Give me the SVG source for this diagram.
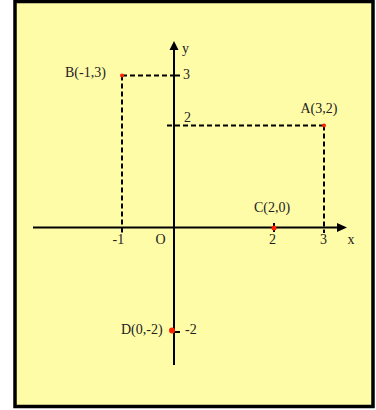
<svg xmlns="http://www.w3.org/2000/svg" width="376" height="410" viewBox="0 0 376 410">
<defs>
<style>
.ax{stroke:#000;stroke-width:2;fill:none}
.ds{stroke:#000;stroke-width:2;fill:none;stroke-dasharray:5 3}
.tk{stroke:#000;stroke-width:2}
.pt{fill:#FF2200}
text{font-family:"Liberation Serif","Times New Roman",serif;font-size:14px;fill:#222}
</style>
</defs>
<rect x="15" y="1.5" width="358" height="405" fill="#FFFCA8" stroke="#000" stroke-width="3.5"/>
<g id="connectors">
<line class="ax" x1="174" y1="365" x2="174" y2="49"/>
<polygon points="174,41 169.5,50 178.5,50" fill="#000"/>
<line class="ax" x1="33" y1="227.5" x2="338" y2="227.5"/>
<polygon points="347,227.5 337,223 337,232" fill="#000"/>
<line class="ds" x1="122" y1="75.5" x2="174" y2="75.5"/>
<line class="tk" x1="174" y1="75.5" x2="180" y2="75.5"/>
<line class="ds" x1="122" y1="75.5" x2="122" y2="233"/>
<line class="ds" x1="167" y1="125.5" x2="324" y2="125.5"/>
<line class="ds" x1="324" y1="125.5" x2="324" y2="233"/>
<line class="tk" x1="274" y1="223" x2="274" y2="232"/>
<line class="tk" x1="174" y1="332" x2="180" y2="332"/>
</g>
<g id="axis-labels">
<text x="182" y="53">y</text>
<text x="183" y="79">3</text>
<text x="184" y="122">2</text>
<text x="112.5" y="244">-1</text>
<text x="155.5" y="244">O</text>
<text x="269" y="244">2</text>
<text x="320" y="244">3</text>
<text x="347.5" y="243.5">x</text>
<text x="185" y="334">-2</text>
</g>
<g id="A"><circle class="pt" cx="324" cy="125.5" r="2"/><text x="300.5" y="112.5">A(3,2)</text></g>
<g id="B"><circle class="pt" cx="122" cy="75.5" r="2"/><text x="65" y="77">B(-1,3)</text></g>
<g id="C"><circle class="pt" cx="274" cy="228" r="2.5"/><text x="254" y="212">C(2,0)</text></g>
<g id="D"><circle class="pt" cx="172" cy="330.5" r="3"/><text x="121" y="334">D(0,-2)</text></g>
</svg>
